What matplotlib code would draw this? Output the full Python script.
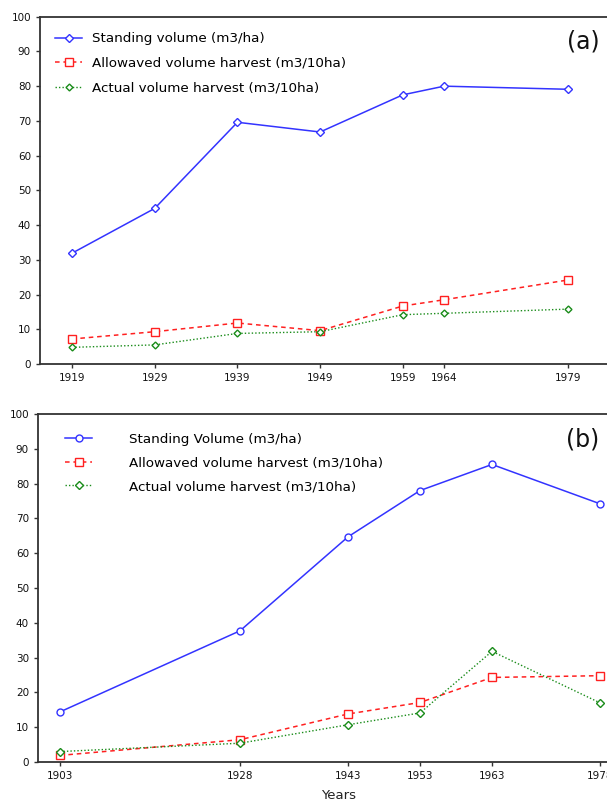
import matplotlib
matplotlib.use("Agg")
import matplotlib.pyplot as plt
from matplotlib.transforms import IdentityTransform

# ---- data (a) ----
years_a = [1919, 1929, 1939, 1949, 1959, 1964, 1979]
standing_a = [31.9, 44.8, 69.6, 66.8, 77.5, 80.0, 79.1]
allowed_a = [7.2, 9.3, 11.8, 9.6, 16.7, 18.5, 24.2]
actual_a = [4.8, 5.5, 8.8, 9.3, 14.2, 14.6, 15.8]
labels_a = ["Standing volume (m3/ha)", "Allowaved volume harvest (m3/10ha)",
            "Actual volume harvest (m3/10ha)"]

# ---- data (b) ----
years_b = [1903, 1928, 1943, 1953, 1963, 1978]
standing_b = [14.4, 37.7, 64.7, 78.0, 85.5, 74.2]
allowed_b = [1.9, 6.4, 13.8, 17.1, 24.3, 24.8]
actual_b = [3.0, 5.4, 10.7, 14.1, 31.8, 17.0]
labels_b = ["Standing Volume (m3/ha)", "Allowaved volume harvest (m3/10ha)",
            "Actual volume harvest (m3/10ha)"]
yticks = [0, 10, 20, 30, 40, 50, 60, 70, 80, 90, 100]

W, H = 607, 801
fig = plt.figure(figsize=(W / 100, H / 100), dpi=100)

def ax_rect(x0, y_top, x1, y_bot):
    return [x0 / W, 1 - y_bot / H, (x1 - x0) / W, (y_bot - y_top) / H]

blue = "#3333ff"
red = "#ff2020"
green = "#1a8c1a"

def style(ax, xt):
    for s in ax.spines.values():
        s.set_color("#333333")
        s.set_linewidth(1.3)
    ax.set_ylim(0, 100)
    ax.set_yticks(yticks)
    ax.set_xticks(xt)
    ax.tick_params(axis="both", labelsize=7.5, length=3, width=1, color="#333333",
                   labelcolor="#111111")

# ---- panel (a) ----
ax1 = fig.add_axes(ax_rect(40, 16.7, 640, 364))
ax1.plot(years_a, standing_a, color=blue, lw=1.1, marker="D", ms=4,
         mfc="white", mec=blue, mew=1, label=labels_a[0])
ax1.plot(years_a, allowed_a, color=red, lw=1.1, ls=(0, (3, 2.5)), marker="s", ms=6,
         mfc="white", mec=red, mew=1, label=labels_a[1])
ax1.plot(years_a, actual_a, color=green, lw=1.0, ls=(0, (1, 1.5)), marker="D", ms=3.5,
         mfc="white", mec=green, mew=1, label=labels_a[2])
x0a = 1919 - 32 / 8.27
ax1.set_xlim(x0a, x0a + 600 / 8.27)
style(ax1, years_a)
ax1.legend(loc="upper left", bbox_to_anchor=(0.01, 0.982), frameon=False,
           fontsize=9.7, handlelength=2.0, handletextpad=0.75, labelspacing=0.86,
           borderaxespad=0.3)
t = ax1.text(583, H - 42, "(a)", fontsize=17, ha="center", va="center",
             color="#111111")
t.set_transform(IdentityTransform())

# ---- panel (b) ----
ax2 = fig.add_axes(ax_rect(38, 414, 640, 762))
ax2.plot(years_b, standing_b, color=blue, lw=1.1, marker="o", ms=5,
         mfc="white", mec=blue, mew=1, label=labels_b[0])
ax2.plot(years_b, allowed_b, color=red, lw=1.1, ls=(0, (3, 2.5)), marker="s", ms=6,
         mfc="white", mec=red, mew=1, label=labels_b[1])
ax2.plot(years_b, actual_b, color=green, lw=1.0, ls=(0, (1, 1.5)), marker="D", ms=4.5,
         mfc="white", mec=green, mew=1, label=labels_b[2])
x0b = 1903 - 22 / 7.2
ax2.set_xlim(x0b, x0b + 602 / 7.2)
style(ax2, years_b)
ax2.legend(loc="upper left", bbox_to_anchor=(0.03, 0.972), frameon=False,
           fontsize=9.7, handlelength=2.0, handletextpad=2.75, labelspacing=0.78,
           borderaxespad=0.3)
t = ax2.text(583, H - 440, "(b)", fontsize=17, ha="center", va="center",
             color="#111111")
t.set_transform(IdentityTransform())
ax2.set_xlabel("Years", fontsize=9.5, labelpad=6, color="#222222")

fig.savefig("out.png", dpi=100, facecolor="white")
